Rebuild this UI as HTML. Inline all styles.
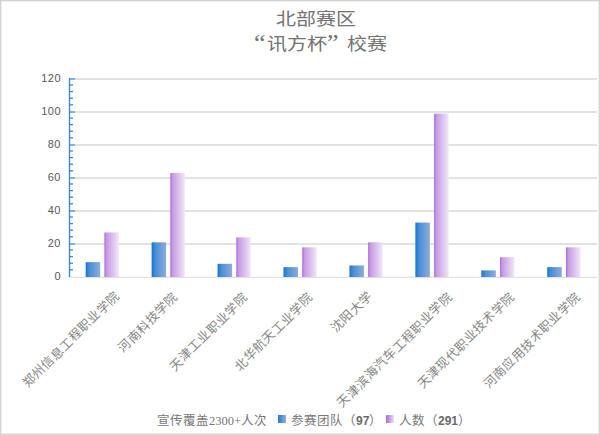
<!DOCTYPE html>
<html lang="zh-CN">
<head>
<meta charset="utf-8">
<style>
html,body{margin:0;padding:0;background:#fff;}
body{width:600px;height:435px;position:relative;overflow:hidden;font-family:"Liberation Serif",serif;color:#595959;}
.frame{position:absolute;left:0;top:0;width:598px;height:433px;border:1px solid #d4d4d4;box-shadow:inset 0 0 0 1px #efefef;}
.t{position:absolute;white-space:nowrap;line-height:1;}
.title{font-size:20px;color:#727272;transform:scaleY(0.88);transform-origin:0 0;}
.q{font-size:26px;}
.ylab{font-family:"Liberation Sans",sans-serif;font-size:11px;letter-spacing:0.5px;color:#595959;text-align:right;width:30px;}
.xl{position:absolute;white-space:nowrap;font-size:12.5px;line-height:13px;color:#858585;transform:rotate(-45deg);transform-origin:100% 50%;text-align:right;}
.leg{font-size:12.5px;color:#777;}
.sans{font-family:"Liberation Sans",sans-serif;}
.dg{font-size:12px;font-weight:bold;color:#6a6a6a;}
svg{position:absolute;left:0;top:0;}
</style>
</head>
<body>
<div class="frame"></div>

<svg width="600" height="435" viewBox="0 0 600 435">
  <defs>
    <linearGradient id="gb" x1="0" y1="0" x2="1" y2="0">
      <stop offset="0" stop-color="#0b6bd0"/>
      <stop offset="0.1" stop-color="#2c80d6"/>
      <stop offset="0.3" stop-color="#4d90d8"/>
      <stop offset="1" stop-color="#8eacda"/>
    </linearGradient>
    <linearGradient id="gp" x1="0" y1="0" x2="1" y2="0">
      <stop offset="0" stop-color="#a868d6"/>
      <stop offset="0.15" stop-color="#c59ae3"/>
      <stop offset="1" stop-color="#f1e8f8"/>
    </linearGradient>
  </defs>
  <g stroke="#d9d9d9" stroke-width="1.3" fill="none">
    <line x1="75" y1="79" x2="597" y2="79"/>
    <line x1="75" y1="112" x2="597" y2="112"/>
    <line x1="75" y1="145" x2="597" y2="145"/>
    <line x1="75" y1="178" x2="597" y2="178"/>
    <line x1="75" y1="211" x2="597" y2="211"/>
    <line x1="75" y1="244" x2="597" y2="244"/>
    <line x1="69" y1="277.3" x2="597" y2="277.3" stroke-width="1"/>
  </g>
  <g><rect x="85.70" y="262.15" width="14.5" height="14.85" fill="url(#gb)"/><rect x="104.40" y="232.45" width="14.5" height="44.55" fill="url(#gp)"/><rect x="151.64" y="242.35" width="14.5" height="34.65" fill="url(#gb)"/><rect x="170.34" y="173.05" width="14.5" height="103.95" fill="url(#gp)"/><rect x="217.58" y="263.80" width="14.5" height="13.20" fill="url(#gb)"/><rect x="236.28" y="237.40" width="14.5" height="39.60" fill="url(#gp)"/><rect x="283.52" y="267.10" width="14.5" height="9.90" fill="url(#gb)"/><rect x="302.22" y="247.30" width="14.5" height="29.70" fill="url(#gp)"/><rect x="349.46" y="265.45" width="14.5" height="11.55" fill="url(#gb)"/><rect x="368.16" y="242.35" width="14.5" height="34.65" fill="url(#gp)"/><rect x="415.40" y="222.55" width="14.5" height="54.45" fill="url(#gb)"/><rect x="434.10" y="113.65" width="14.5" height="163.35" fill="url(#gp)"/><rect x="481.34" y="270.40" width="14.5" height="6.60" fill="url(#gb)"/><rect x="500.04" y="257.20" width="14.5" height="19.80" fill="url(#gp)"/><rect x="547.28" y="267.10" width="14.5" height="9.90" fill="url(#gb)"/><rect x="565.98" y="247.30" width="14.5" height="29.70" fill="url(#gp)"/></g>
  <g stroke="#3b86d6" stroke-width="1.35" fill="none">
    <line x1="69.5" y1="78.3" x2="69.5" y2="277"/>
  </g>
  <g stroke="#3b86d6" stroke-width="1.3"><line x1="69" y1="79.00" x2="75" y2="79.00"/><line x1="69" y1="85.00" x2="73" y2="85.00"/><line x1="69" y1="91.60" x2="73" y2="91.60"/><line x1="69" y1="98.20" x2="73" y2="98.20"/><line x1="69" y1="104.80" x2="73" y2="104.80"/><line x1="69" y1="112.00" x2="75" y2="112.00"/><line x1="69" y1="118.00" x2="73" y2="118.00"/><line x1="69" y1="124.60" x2="73" y2="124.60"/><line x1="69" y1="131.20" x2="73" y2="131.20"/><line x1="69" y1="137.80" x2="73" y2="137.80"/><line x1="69" y1="145.00" x2="75" y2="145.00"/><line x1="69" y1="151.00" x2="73" y2="151.00"/><line x1="69" y1="157.60" x2="73" y2="157.60"/><line x1="69" y1="164.20" x2="73" y2="164.20"/><line x1="69" y1="170.80" x2="73" y2="170.80"/><line x1="69" y1="178.00" x2="75" y2="178.00"/><line x1="69" y1="184.00" x2="73" y2="184.00"/><line x1="69" y1="190.60" x2="73" y2="190.60"/><line x1="69" y1="197.20" x2="73" y2="197.20"/><line x1="69" y1="203.80" x2="73" y2="203.80"/><line x1="69" y1="211.00" x2="75" y2="211.00"/><line x1="69" y1="217.00" x2="73" y2="217.00"/><line x1="69" y1="223.60" x2="73" y2="223.60"/><line x1="69" y1="230.20" x2="73" y2="230.20"/><line x1="69" y1="236.80" x2="73" y2="236.80"/><line x1="69" y1="244.00" x2="75" y2="244.00"/><line x1="69" y1="250.00" x2="73" y2="250.00"/><line x1="69" y1="256.60" x2="73" y2="256.60"/><line x1="69" y1="263.20" x2="73" y2="263.20"/><line x1="69" y1="269.80" x2="73" y2="269.80"/></g>
</svg>

<!-- title -->
<div class="t title" style="left:276px;top:10px;">北部赛区</div>
<div class="t title q" style="left:254px;top:33px;">“</div>
<div class="t title" style="left:267px;top:35px;">讯方杯</div>
<div class="t title q" style="left:327px;top:32px;">”</div>
<div class="t title" style="left:347px;top:35px;">校赛</div>

<!-- y labels -->
<div class="t ylab" style="left:31px;top:73px;">120</div>
<div class="t ylab" style="left:31px;top:106px;">100</div>
<div class="t ylab" style="left:31px;top:139px;">80</div>
<div class="t ylab" style="left:31px;top:172px;">60</div>
<div class="t ylab" style="left:31px;top:205px;">40</div>
<div class="t ylab" style="left:31px;top:238px;">20</div>
<div class="t ylab" style="left:31px;top:271px;">0</div>

<!-- x labels -->
<div class="xl" style="left:-11.00px;top:291.10px;width:125.00px;">郑州信息工程职业学院</div>
<div class="xl" style="left:99.00px;top:291.20px;width:75.00px;">河南科技学院</div>
<div class="xl" style="left:142.90px;top:291.50px;width:100.00px;">天津工业职业学院</div>
<div class="xl" style="left:208.30px;top:291.50px;width:100.00px;">北华航天工业学院</div>
<div class="xl" style="left:318.80px;top:289.00px;width:50.00px;">沈阳大学</div>
<div class="xl" style="left:296.30px;top:293.00px;width:150.00px;">天津滨海汽车工程职业学院</div>
<div class="xl" style="left:383.80px;top:292.00px;width:125.00px;">天津现代职业技术学院</div>
<div class="xl" style="left:449.70px;top:292.00px;width:125.00px;">河南应用技术职业学院</div>

<!-- legend -->
<div class="t leg" style="left:157px;top:415px;">宣传覆盖2300+人次</div>
<div style="position:absolute;left:278px;top:415px;width:8px;height:8px;background:linear-gradient(90deg,#2a7ad6,#8eb0df);"></div>
<div class="t leg" style="left:291px;top:415px;">参赛团队<span class="sans">（<b class="dg">97</b>）</span></div>
<div style="position:absolute;left:386px;top:415px;width:8px;height:8px;background:linear-gradient(90deg,#a868d6,#ecdff5);"></div>
<div class="t leg" style="left:399px;top:415px;">人数<span class="sans">（<b class="dg">291</b>）</span></div>

</body>
</html>
